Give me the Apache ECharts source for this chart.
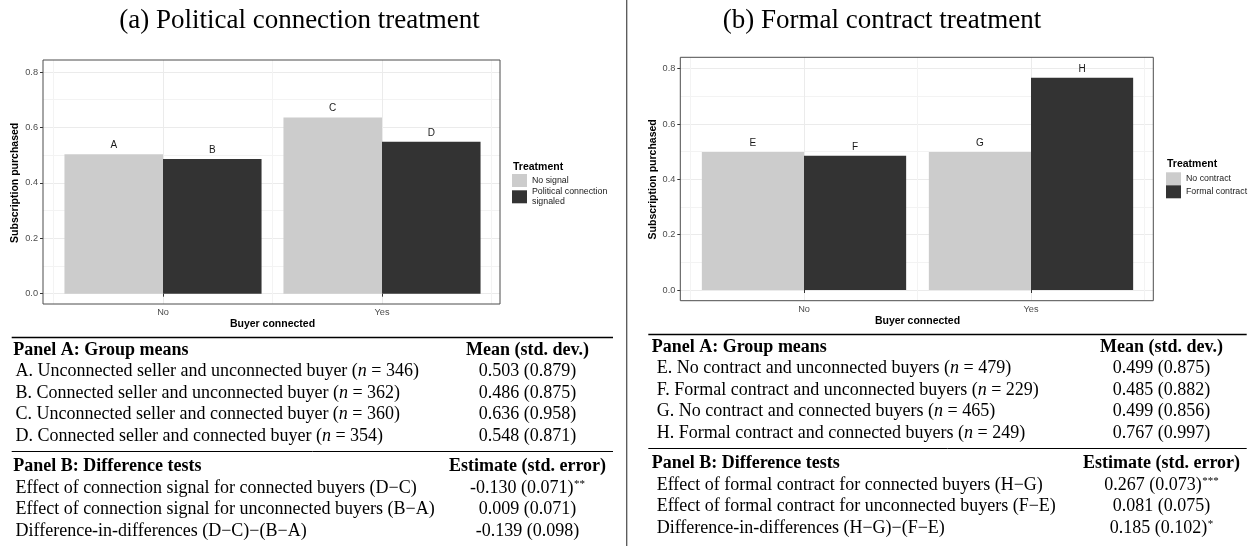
<!DOCTYPE html>
<html>
<head>
<meta charset="utf-8">
<script src="https://cdn.jsdelivr.net/npm/echarts@6/dist/echarts.min.js"></script>
<style>
  html, body { margin: 0; padding: 0; background: #ffffff; }
  #chart { width: 1252px; height: 546px; }
</style>
</head>
<body>
<div id="chart"></div>
<script>
// ---- Data ----
const buyerConnected = ['No', 'Yes'];
const yTicks = [0, 0.2, 0.4, 0.6, 0.8];

// Political connection treatment: groups A-D
const connTitle = '(a) Political connection treatment';
const connTreatments = ['No signal', 'Political connection signaled'];
const connLegendLabels = ['No signal', 'Political connection\nsignaled'];
const connLetters = ['A', 'B', 'C', 'D'];
const connGroupLabels = [
  'Unconnected seller and unconnected buyer',
  'Connected seller and unconnected buyer',
  'Unconnected seller and connected buyer',
  'Connected seller and connected buyer'
];
const connMeans = [0.503, 0.486, 0.636, 0.548];
const connSD = [0.879, 0.875, 0.958, 0.871];
const connN = [346, 362, 360, 354];
const connTests = [
  'Effect of connection signal for connected buyers (D\u2212C)',
  'Effect of connection signal for unconnected buyers (B\u2212A)',
  'Difference-in-differences (D\u2212C)\u2212(B\u2212A)'
];
const connEst = [-0.130, 0.009, -0.139];
const connSE = [0.071, 0.071, 0.098];
const connStars = ['**', '', ''];

// Formal contract treatment: groups E-H
const contractTitle = '(b) Formal contract treatment';
const contractTreatments = ['No contract', 'Formal contract'];
const contractLegendLabels = ['No contract', 'Formal contract'];
const contractLetters = ['E', 'F', 'G', 'H'];
const contractGroupLabels = [
  'No contract and unconnected buyers',
  'Formal contract and unconnected buyers',
  'No contract and connected buyers',
  'Formal contract and connected buyers'
];
const contractMeans = [0.499, 0.485, 0.499, 0.767];
const contractSD = [0.875, 0.882, 0.856, 0.997];
const contractN = [479, 229, 465, 249];
const contractTests = [
  'Effect of formal contract for connected buyers (H\u2212G)',
  'Effect of formal contract for unconnected buyers (F\u2212E)',
  'Difference-in-differences (H\u2212G)\u2212(F\u2212E)'
];
const contractEst = [0.267, 0.081, 0.185];
const contractSE = [0.073, 0.075, 0.102];
const contractStars = ['***', '', '*'];

// ---- Styling / layout ----
const SANS = '"Liberation Sans", Arial, Helvetica, sans-serif';
const SERIF = '"Liberation Serif", "Times New Roman", Times, serif';
const LIGHT = '#cccccc';
const DARK = '#333333';
const GRID_MAJOR = '#ebebeb';
const GRID_MINOR = '#f3f3f3';

const panels = [
  {
    title: connTitle, titleX: 299.5,
    frame: [43, 60, 500, 304], band: [53.5, 491.5], yZero: 293.7, yTop: 72,
    treatments: connTreatments, legendLabels: connLegendLabels, letters: connLetters,
    means: connMeans, sd: connSD, n: connN, groupLabels: connGroupLabels,
    tests: connTests, est: connEst, se: connSE, stars: connStars,
    legendX: 512, legendTitleY: 166.7, legendTop: 174,
    table: { x0: 11.7, x1: 613, headX: 13.3, rowX: 15.5, valX: 527.5, top: 337.5 }
  },
  {
    title: contractTitle, titleX: 882,
    frame: [680.3, 57.3, 1153.3, 300.7], band: [690.5, 1144.5], yZero: 290, yTop: 68.7,
    treatments: contractTreatments, legendLabels: contractLegendLabels, letters: contractLetters,
    means: contractMeans, sd: contractSD, n: contractN, groupLabels: contractGroupLabels,
    tests: contractTests, est: contractEst, se: contractSE, stars: contractStars,
    legendX: 1166, legendTitleY: 164, legendTop: 172.3,
    table: { x0: 648.3, x1: 1246.7, headX: 651.7, rowX: 656.7, valX: 1161.5, top: 334.5 }
  }
];

const grids = [], xAxes = [], yAxes = [], series = [], legends = [], graphics = [];

function hiddenAxis(gridIndex) {
  return { gridIndex, type: 'value', show: false };
}

panels.forEach((P, p) => {
  const b = p * 4;
  const [fx0, fy0, fx1, fy1] = P.frame;
  const [bx0, bx1] = P.band;

  // panel border
  grids.push({ left: fx0, top: fy0, width: fx1 - fx0, height: fy1 - fy0, show: true,
    borderColor: '#4d4d4d', borderWidth: 1, backgroundColor: 'rgba(0,0,0,0)', z: 10 });
  xAxes.push(hiddenAxis(b));
  yAxes.push(hiddenAxis(b));

  // y scale: horizontal grid lines, ticks and labels
  grids.push({ left: fx0, top: P.yTop, width: fx1 - fx0, height: P.yZero - P.yTop, show: false });
  xAxes.push(hiddenAxis(b + 1));
  yAxes.push({
    gridIndex: b + 1, type: 'value',
    min: yTicks[0], max: yTicks[yTicks.length - 1], interval: yTicks[1] - yTicks[0],
    axisLine: { show: false },
    axisTick: { show: true, length: 3, lineStyle: { color: '#333333', width: 1 } },
    axisLabel: { formatter: v => v.toFixed(1), color: '#4d4d4d', fontSize: 9.2, fontFamily: SANS, margin: 5 },
    splitLine: { show: true, lineStyle: { color: GRID_MAJOR, width: 1 } },
    minorTick: { show: false, splitNumber: 2 },
    minorSplitLine: { show: true, lineStyle: { color: GRID_MINOR, width: 1 } },
    name: 'Subscription purchased', nameLocation: 'middle', nameGap: 22,
    nameTextStyle: { fontWeight: 'bold', fontSize: 10.5, fontFamily: SANS, color: '#000000' }
  });

  // vertical grid lines: category centres (major) and band edges (minor)
  grids.push({ left: bx0, top: fy0, width: bx1 - bx0, height: fy1 - fy0, show: false });
  xAxes.push({
    gridIndex: b + 2, type: 'value', min: 0.5, max: buyerConnected.length + 0.5, interval: 1,
    axisLine: { show: false }, axisTick: { show: false }, axisLabel: { show: false },
    splitLine: { show: true, lineStyle: { color: GRID_MINOR, width: 1 } },
    minorTick: { show: false, splitNumber: 2 },
    minorSplitLine: { show: true, lineStyle: { color: GRID_MAJOR, width: 1 } }
  });
  yAxes.push(hiddenAxis(b + 2));

  // bars
  grids.push({ left: bx0, top: P.yTop, width: bx1 - bx0, height: P.yZero - P.yTop, show: false });
  xAxes.push({
    gridIndex: b + 3, type: 'category', data: buyerConnected,
    offset: fy1 - P.yZero,
    axisLine: { show: false },
    axisTick: { show: true, alignWithLabel: true, length: 3, lineStyle: { color: '#333333', width: 1 } },
    axisLabel: { color: '#4d4d4d', fontSize: 9.2, fontFamily: SANS, margin: 4 },
    splitLine: { show: false },
    name: 'Buyer connected', nameLocation: 'middle', nameGap: 14.5,
    nameTextStyle: { fontWeight: 'bold', fontSize: 10.5, fontFamily: SANS, color: '#000000' }
  });
  yAxes.push({ gridIndex: b + 3, type: 'value', min: yTicks[0], max: yTicks[yTicks.length - 1], show: false });

  // series: first treatment = groups 0 and 2, second = groups 1 and 3
  [0, 1].forEach(t => {
    const idx = buyerConnected.map((_, c) => c * 2 + t);
    series.push({
      type: 'bar', name: P.treatments[t],
      xAxisIndex: b + 3, yAxisIndex: b + 3,
      data: idx.map(i => P.means[i]),
      barGap: '0%', barCategoryGap: '10%',
      itemStyle: { color: t === 0 ? LIGHT : DARK },
      label: {
        show: true, position: 'top', distance: 4,
        formatter: prm => P.letters[idx[prm.dataIndex]],
        fontSize: 10, fontFamily: SANS, color: '#1a1a1a'
      },
      emphasis: { disabled: true },
      animation: false
    });
  });

  legends.push({
    data: P.treatments, orient: 'vertical', left: P.legendX, top: P.legendTop,
    itemWidth: 15, itemHeight: 13, itemGap: 0, padding: 0, icon: 'rect', selectedMode: false,
    formatter: name => P.legendLabels[P.treatments.indexOf(name)],
    textStyle: { fontSize: 8.8, fontFamily: SANS, color: '#1a1a1a', lineHeight: 9.8 }
  });

  // panel title
  graphics.push({ type: 'text', style: { text: P.title, x: P.titleX, y: 21, textAlign: 'center', textVerticalAlign: 'middle',
    fontSize: 27, fontFamily: SERIF, fill: '#000000' } });
  // legend title
  graphics.push({ type: 'text', style: { text: 'Treatment', x: P.legendX + 1, y: P.legendTitleY, textAlign: 'left', textVerticalAlign: 'middle',
    fontSize: 10.5, fontWeight: 'bold', fontFamily: SANS, fill: '#000000' } });

  // ---- summary table ----
  const T = P.table;
  const rowStep = 21.5;
  const txt = (text, x, y, align, bold, rich) => ({
    type: 'text',
    style: { text, x, y, textAlign: align, textVerticalAlign: 'middle', fontSize: 18,
      fontWeight: bold ? 'bold' : 'normal', fontFamily: SERIF, fill: '#000000', rich: rich || {} }
  });
  const rule = (y, w) => ({ type: 'line', shape: { x1: T.x0, y1: y, x2: T.x1, y2: y }, style: { stroke: '#000000', lineWidth: w } });
  const italic = { i: { fontStyle: 'italic', fontSize: 18, fontFamily: SERIF, fill: '#000000' } };
  const sup = { s: { fontSize: 11, fontFamily: SERIF, fill: '#000000', verticalAlign: 'top', padding: [0, 0, 0, 0.5] } };

  graphics.push(rule(T.top, 1.6));
  const headA = T.top + 12.5;
  graphics.push(txt('Panel A: Group means', T.headX, headA, 'left', true));
  graphics.push(txt('Mean (std. dev.)', T.valX, headA, 'center', true));
  P.means.forEach((m, i) => {
    const y = headA + rowStep * (i + 1);
    graphics.push(txt(`${P.letters[i]}. ${P.groupLabels[i]} ({i|n} = ${P.n[i]})`, T.rowX, y, 'left', false, italic));
    graphics.push(txt(`${m.toFixed(3)} (${P.sd[i].toFixed(3)})`, T.valX, y, 'center', false));
  });
  const midRule = headA + rowStep * 4 + 15.5;
  graphics.push(rule(midRule, 1));
  const headB = midRule + 15;
  graphics.push(txt('Panel B: Difference tests', T.headX, headB, 'left', true));
  graphics.push(txt('Estimate (std. error)', T.valX, headB, 'center', true));
  P.tests.forEach((label, i) => {
    const y = headB + rowStep * (i + 1);
    graphics.push(txt(label, T.rowX, y, 'left', false));
    const stars = P.stars[i] ? `{s|${P.stars[i]}}` : '';
    graphics.push(txt(`${P.est[i].toFixed(3)} (${P.se[i].toFixed(3)})${stars}`, T.valX, y, 'center', false, sup));
  });
});

// divider between the two sub-figures
graphics.push({ type: 'line', shape: { x1: 626.7, y1: 0, x2: 626.7, y2: 546 }, style: { stroke: '#555555', lineWidth: 1.3 } });

const chart = echarts.init(document.getElementById('chart'), null, { renderer: 'canvas' });
chart.setOption({
  animation: false,
  backgroundColor: '#ffffff',
  grid: grids,
  xAxis: xAxes,
  yAxis: yAxes,
  legend: legends,
  series: series,
  graphic: { elements: graphics }
});
</script>
</body>
</html>
